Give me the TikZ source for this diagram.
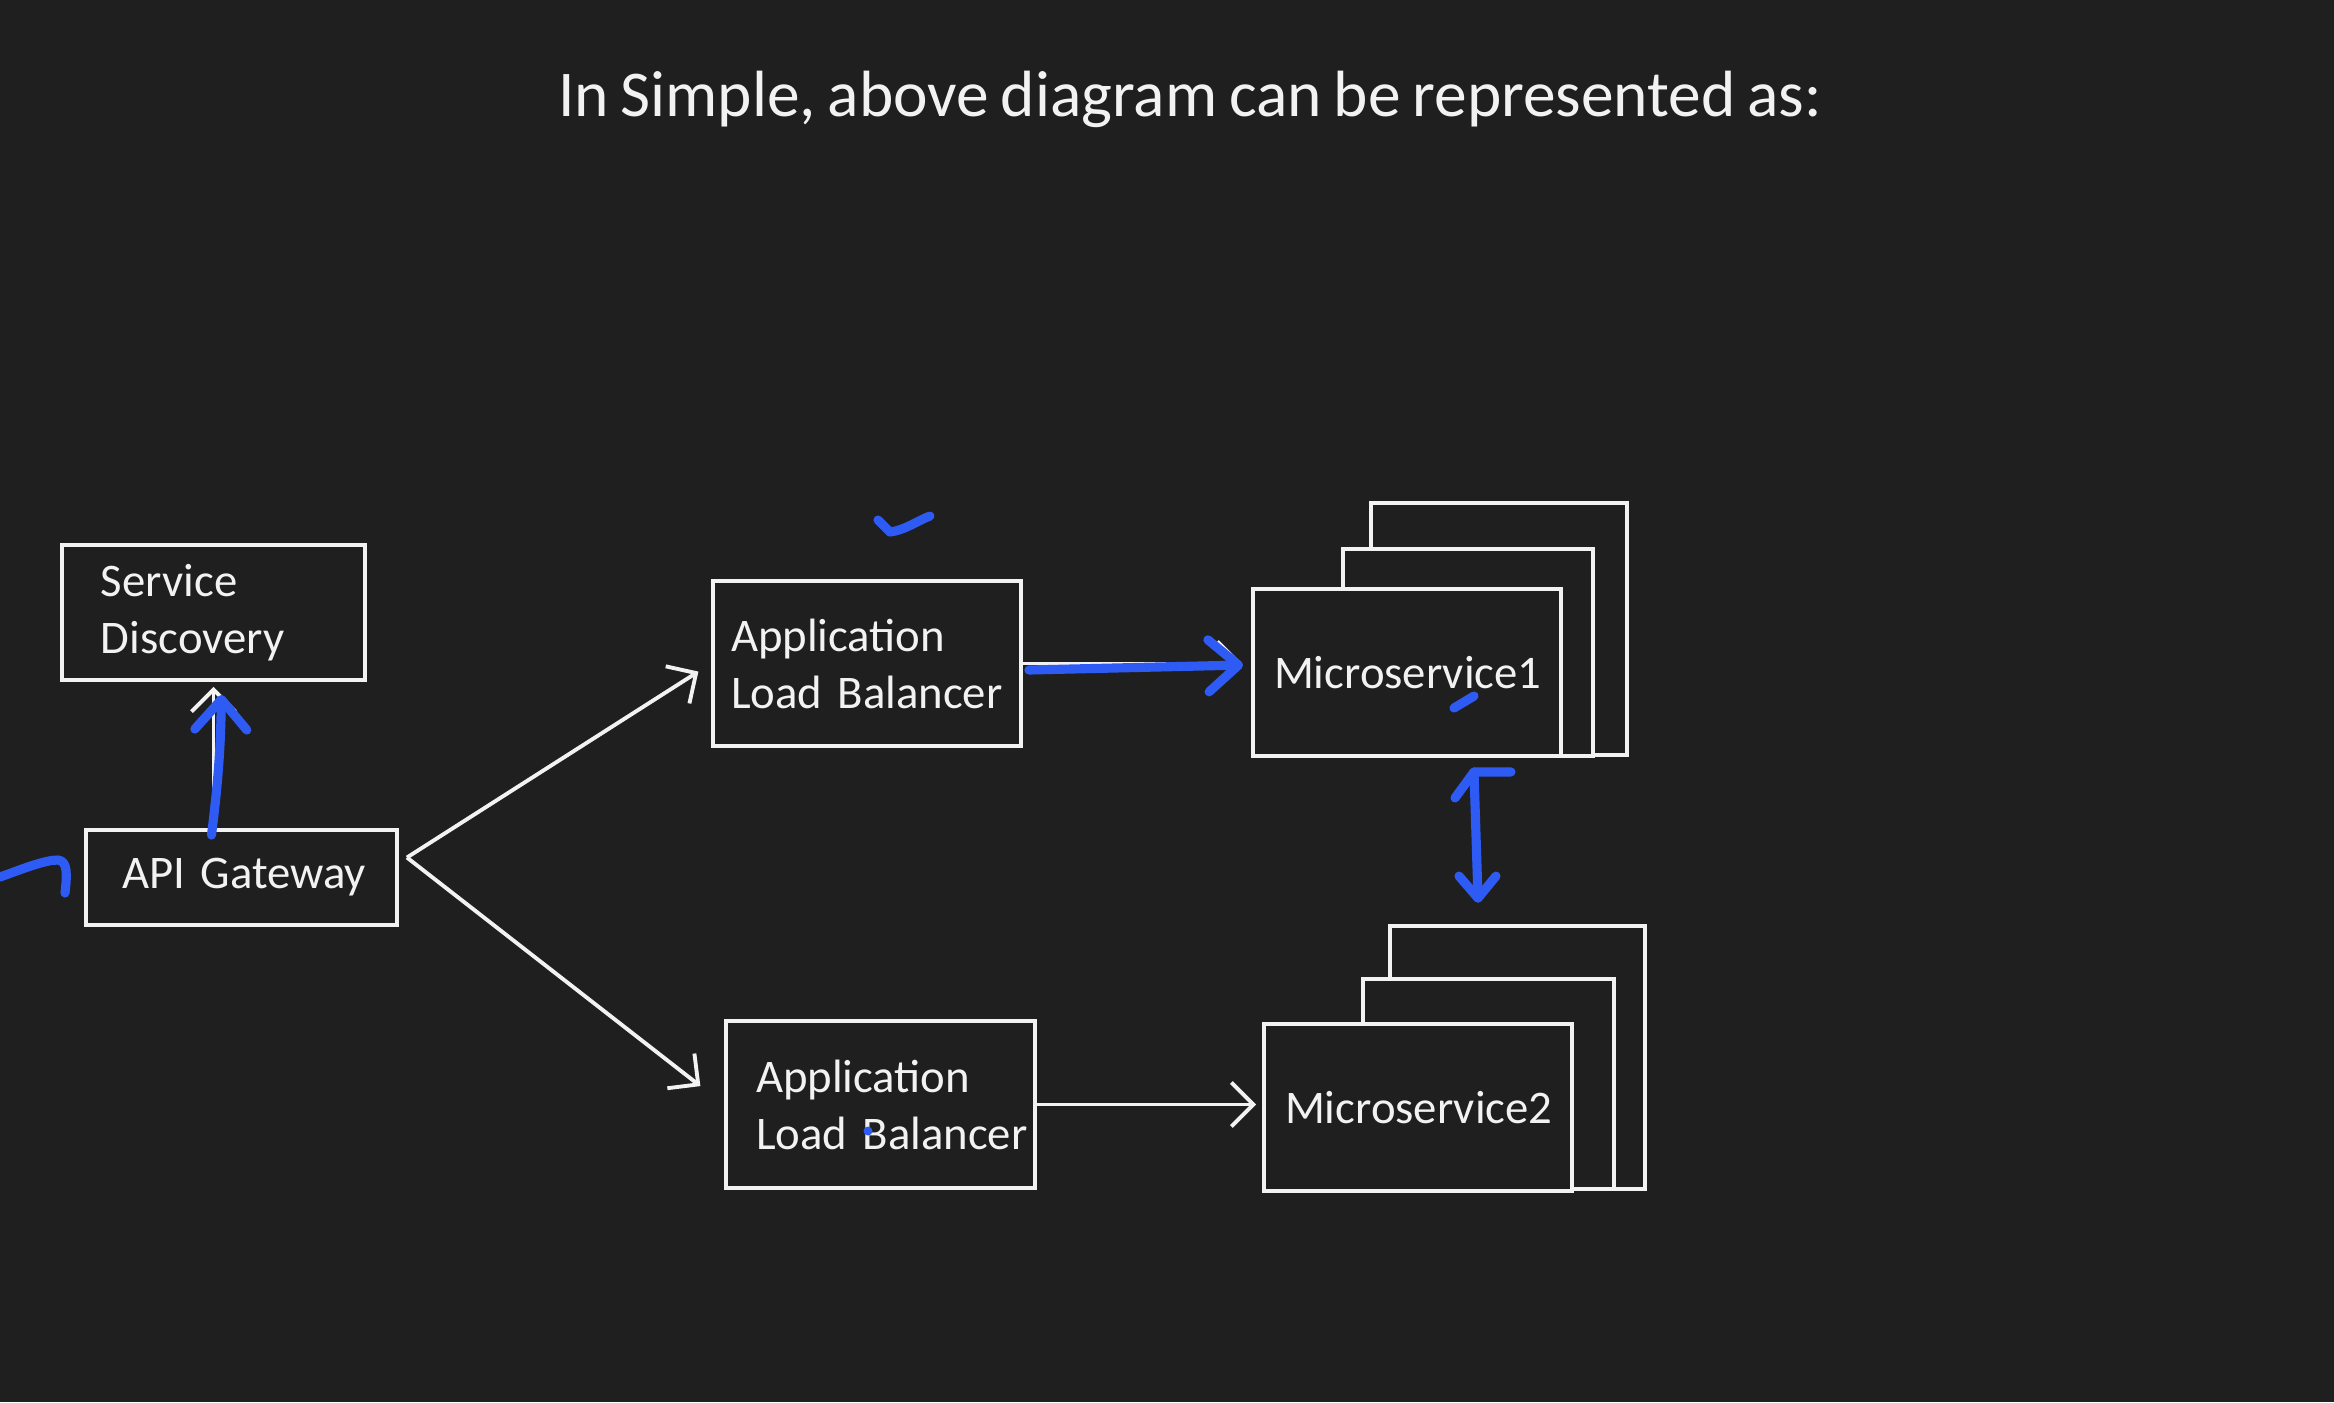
\documentclass[tikz,border=0pt]{standalone}
\usepackage{fontspec}
\setmainfont{Carlito}[WordSpace=0.8]
\usetikzlibrary{positioning,arrows.meta,calc}
\definecolor{slidebg}{HTML}{1F1F1F}
\definecolor{chalk}{HTML}{F2F2F2}
\definecolor{pen}{HTML}{2F5BF5}

\begin{document}
\begin{tikzpicture}[
  box/.style={draw=chalk, fill=slidebg, line width=1.1pt, text=chalk,
              align=left, inner ysep=0pt,
              font=\fontsize{13.3}{16.2}\selectfont},
  stackbox/.style={draw=chalk, fill=slidebg, line width=1.1pt, inner sep=0pt},
  link/.style={draw=chalk, line width=1.1pt,
               -{Straight Barb[length=2.2mm, width=4.4mm]}},
  ink/.style={draw=pen, line width=2.6pt, line cap=round, line join=round},
  inkarrow/.style={ink, -{Straight Barb[length=3mm, width=5.2mm, round]}}
]
% Slide background
\fill[slidebg] (0,0) rectangle (23.34,-14.02);
\useasboundingbox (0,0) rectangle (23.34,-14.02);

% Title
\node[text=chalk, font=\fontsize{18.6}{22}\selectfont, anchor=base]
  (title) at (11.9,-1.16) {In Simple, above diagram can be represented as:};

% Left side
\node[box, text width=2.25cm, inner xsep=0.39cm, minimum height=1.35cm]
  (sd) at (2.135,-6.125) {Service\\Discovery};
\node[box, text width=2.39cm, inner xsep=0.36cm, minimum height=0.95cm]
  (api) at (2.415,-8.775) {\mbox{API Gateway}};

% Load balancers
\node[box, text width=2.72cm, inner xsep=0.18cm, minimum height=1.65cm]
  (alb1) at (8.67,-6.635) {Application\\\mbox{Load Balancer}};
\node[box, text width=2.49cm, inner xsep=0.30cm, minimum height=1.67cm]
  (alb2) at (8.805,-11.045) {Application\\\mbox{Load Balancer}};

% Microservice1 stack
\node[stackbox, minimum width=2.56cm, minimum height=2.52cm] (ms1back) at (14.99,-6.29) {};
\node[stackbox, minimum width=2.50cm, minimum height=2.07cm] (ms1mid) at (14.68,-6.525) {};
\node[box, text width=2.66cm, inner xsep=0.21cm, minimum height=1.67cm]
  (ms1) at (14.07,-6.725) {Microservice1};

% Microservice2 stack
\node[stackbox, minimum width=2.55cm, minimum height=2.63cm] (ms2back) at (15.175,-10.575) {};
\node[stackbox, minimum width=2.51cm, minimum height=2.10cm] (ms2mid) at (14.885,-10.84) {};
\node[box, text width=2.66cm, inner xsep=0.21cm, minimum height=1.67cm]
  (ms2) at (14.18,-11.075) {Microservice2};

% White connectors
\coordinate (fork) at ($(api.east)+(0.08,0.2)$);
\draw[link, shorten >=1.5mm] (fork) -- (alb1.west);
\draw[link, shorten >=3mm] (fork) -- (alb2.west);
\draw[link, shorten >=0.5mm] (sd.south |- api.north) -- (sd.south);
\draw[link, shorten >=0.9mm] (alb1.east) -- (alb1.east -| ms1.west);
\draw[link, shorten >=0.6mm] (alb2.east) -- (alb2.east -| ms2.west);

% Blue pen marks
\coordinate (entry) at (0,-8.77);
\draw[ink] (entry) .. controls (0.25,-8.68) and (0.45,-8.6) .. (0.58,-8.6)
  .. controls (0.68,-8.61) and (0.67,-8.75) .. (0.65,-8.93);
\draw[inkarrow] ([xshift=-0.02cm, yshift=-0.07cm]sd.south |- api.north)
  to[bend right=3] ([xshift=0.08cm, yshift=-0.13cm]sd.south);
\draw[inkarrow] ([xshift=0.06cm, yshift=-0.065cm]alb1.east)
  -- ([xshift=-0.08cm, yshift=0.075cm]ms1.west);
\coordinate (vtop) at ($(ms1mid.south)+(0.06,-0.14)$);
\coordinate (vbot) at ($(ms2back.north)+(-0.395,0.26)$);
\draw[ink] (vtop) -- (vbot);
\draw[ink] (vtop) ++(-0.19,-0.26) -- (vtop) -- ++(0.37,0);
\draw[ink] (vbot) ++(-0.19,0.22) -- (vbot) -- ++(0.18,0.22);
\draw[ink] (8.78,-5.2) -- (8.9,-5.32) .. controls (9.05,-5.3) and (9.15,-5.22) .. (9.3,-5.16);
\draw[ink] (14.54,-7.08) -- (14.74,-6.96);
\fill[pen] (8.68,-11.31) circle (0.045);

\end{tikzpicture}
\end{document}
